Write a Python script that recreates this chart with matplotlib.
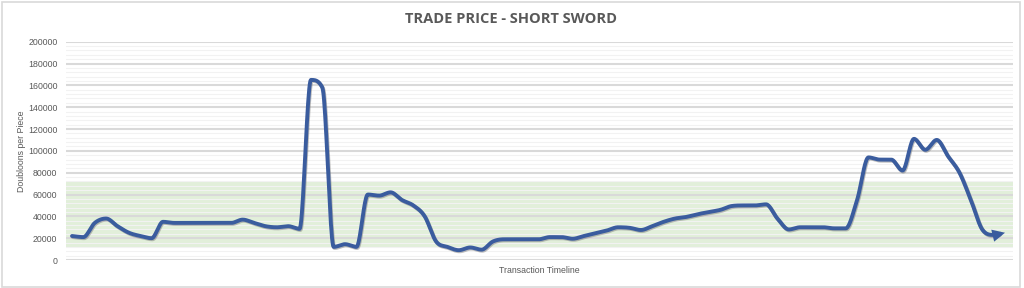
import numpy as np
import matplotlib
matplotlib.use("Agg")
import matplotlib.pyplot as plt
import matplotlib.patheffects as pe
from matplotlib.patches import Rectangle

# ==========================================================
# DATA (doubloons per piece, one value per transaction)
# ==========================================================

prices = [
    22000, 21000, 34000, 38000, 31000, 25000, 22000, 20000, 35000, 34000,
    34000, 34000, 34000, 34000, 34000, 37000, 34000, 31000, 30000, 31000,
    28500, 165000, 158000, 12000, 14500, 12000, 60000, 59000, 62000, 55000,
    50000, 40000, 17000, 12000, 9000, 11500, 9500, 17000, 19000, 19000,
    19000, 19000, 21000, 21000, 19500, 22000, 24500, 27000, 30000, 29500,
    27500, 31000, 35000, 38000, 39500, 42000, 44000, 46000, 49500, 50000,
    50000, 51000, 38000, 28000, 30000, 30000, 30000, 29000, 29000, 55000,
    94000, 92000, 92000, 82000, 111000, 101000, 110000, 95000, 80000, 55000,
    28000, 23000, 25000,
]

band_low = 11000
band_high = 72000

y_ticks = [0, 20000, 40000, 60000, 80000, 100000, 120000, 140000, 160000, 180000, 200000]

title = "TRADE PRICE - SHORT SWORD"
x_label = "Transaction Timeline"
y_label = "Doubloons per Piece"

# ==========================================================
# SMOOTHED LINE (Catmull-Rom tangents, clamped so spikes don't overshoot)
# ==========================================================

x = np.arange(len(prices), dtype=float)
y = np.array(prices, dtype=float)


def smooth(xs, ys, steps=20):
    d = np.diff(ys) / np.diff(xs)
    m = np.zeros_like(ys)
    m[0], m[-1] = d[0], d[-1]
    for i in range(1, len(ys) - 1):
        if d[i - 1] * d[i] <= 0:
            m[i] = 0.0
        else:
            cr = 0.5 * (d[i - 1] + d[i])
            lim = 3.0 * min(abs(d[i - 1]), abs(d[i]))
            m[i] = np.sign(cr) * min(abs(cr), lim)
    out_x, out_y = [], []
    t = np.linspace(0, 1, steps, endpoint=False)
    for i in range(len(xs) - 1):
        h = xs[i + 1] - xs[i]
        h00 = 2 * t ** 3 - 3 * t ** 2 + 1
        h10 = t ** 3 - 2 * t ** 2 + t
        h01 = -2 * t ** 3 + 3 * t ** 2
        h11 = t ** 3 - t ** 2
        out_x.extend(xs[i] + h * t)
        out_y.extend(h00 * ys[i] + h10 * h * m[i] + h01 * ys[i + 1] + h11 * h * m[i + 1])
    out_x.append(xs[-1])
    out_y.append(ys[-1])
    return np.array(out_x), np.array(out_y)


sx, sy = smooth(x, y)

# ==========================================================
# PLOT
# ==========================================================

grey = "#595959"
line_color = "#3A5C9E"

fig = plt.figure(figsize=(10.24, 2.88), dpi=100)
fig.patches.append(Rectangle((0.002, 0.004), 0.994, 0.99, transform=fig.transFigure,
                             fill=False, edgecolor="#D9D9D9", linewidth=1.2))

ax = fig.add_axes([0.0642, 0.0972, 0.9248, 0.758])

ax.axhspan(band_low, band_high, color="#E2EFDA", zorder=0, linewidth=0)

shadow = [pe.SimpleLineShadow(offset=(0.6, -0.8), shadow_color="#7F7F7F", alpha=0.5), pe.Normal()]
cut = 12
ax.plot(sx[:-cut + 1], sy[:-cut + 1], color=line_color, linewidth=2.8, solid_capstyle="round",
        solid_joinstyle="round", path_effects=shadow, zorder=3)
ax.annotate("", xy=(sx[-1], sy[-1]), xytext=(sx[-cut], sy[-cut]),
            arrowprops=dict(arrowstyle="-|>,head_length=0.45,head_width=0.22",
                            mutation_scale=10, color=line_color, lw=2.8,
                            shrinkA=0, shrinkB=0, joinstyle="miter"),
            zorder=3)

ax.set_xlim(-0.55, len(prices) - 1 + 0.68)
ax.set_ylim(0, 200000)
ax.set_yticks(y_ticks)
ax.set_yticklabels([str(v) for v in y_ticks], family="Liberation Sans")
ax.yaxis.set_minor_locator(matplotlib.ticker.MultipleLocator(4000))
ax.set_xticks([])

ax.grid(axis="y", which="major", color="#D9D9D9", linewidth=1.5, zorder=1)
ax.grid(axis="y", which="minor", color="#F2F2F2", linewidth=0.8, zorder=1)
ax.set_axisbelow(True)

for s in ax.spines.values():
    s.set_visible(False)
ax.tick_params(axis="y", which="both", length=0, labelsize=6.3, labelcolor=grey, pad=6)

ax.set_ylabel(y_label, fontsize=6.3, color=grey, family="Liberation Sans")
ax.yaxis.set_label_coords(-0.042, 0.5)
ax.set_xlabel(x_label, fontsize=6.3, color=grey, family="Liberation Sans", labelpad=4)
fig.text(0.4995, 0.935, title, ha="center", va="center", fontsize=10.5,
         fontweight="bold", color=grey, family="Open Sans")

fig.savefig("out.png", dpi=100)
